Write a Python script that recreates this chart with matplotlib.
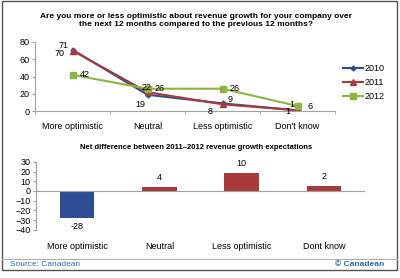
import numpy as np
import matplotlib.pyplot as plt
from matplotlib.lines import Line2D

# data
categories = ["More optimistic", "Neutral", "Less optimistic", "Don't know"]
bar_categories = ["More optimistic", "Neutral", "Less optimistic", "Dont know"]
y2010 = [71, 19, 9, 1]
y2011 = [70, 22, 8, 1]
y2012 = [42, 26, 26, 6]
net_diff = [-28, 4, 18, 5]
net_labels = ["-28", "4", "10", "2"]

plt.rcParams["font.family"] = ["Liberation Sans", "DejaVu Sans"]
plt.rcParams["font.size"] = 6.5

c2010 = "#2E4D95"
c2011 = "#A83A3A"
c2012 = "#8CB640"
grey = "#A0A0A0"

fig = plt.figure(figsize=(4, 2.78), dpi=100)

# frame around the whole graphic
fig.add_artist(plt.Rectangle((0.006, 0.029), 0.986, 0.966, transform=fig.transFigure,
                             fill=False, edgecolor="#555555", linewidth=1.0))
fig.add_artist(Line2D([0.006, 0.992], [0.068, 0.068], transform=fig.transFigure,
                      color="#B0B0B0", linewidth=0.8))
fig.text(0.025, 0.048, "Source: Canadean", color="#2A6EBB", fontsize=6, va="center")
fig.text(0.96, 0.048, "© Canadean", color="#2A6EBB", fontsize=6, va="center",
         ha="right", fontweight="bold")

# ---- top line chart
ax = fig.add_axes([0.0875, 0.60, 0.75, 0.249])
x = np.arange(len(categories))
ax.plot(x, y2010, "-D", color=c2010, markersize=2.5, linewidth=1.5, label="2010")
ax.plot(x, y2011, "-^", color=c2011, markersize=5, linewidth=1.5, label="2011")
ax.plot(x, y2012, "-s", color=c2012, markersize=5, linewidth=1.5, label="2012")
ax.set_xlim(-0.5, 3.5)
ax.set_ylim(0, 80)
ax.set_yticks([0, 20, 40, 60, 80])
ax.set_xticks(x)
ax.set_xticklabels(categories)
ax.set_xticks([-0.5, 0.5, 1.5, 2.5, 3.5], minor=True)
ax.tick_params(axis="x", which="major", length=0, pad=8)
ax.tick_params(axis="x", which="minor", length=2, color=grey)
ax.tick_params(axis="y", length=2, color=grey, pad=2)
for s in ["top", "right"]:
    ax.spines[s].set_visible(False)
for s in ["left", "bottom"]:
    ax.spines[s].set_color(grey)

# point labels
offs2010 = [(-10, 3), (-9, -7), (4, 3), (-6, 4)]
offs2011 = [(-13, -2), (-4, 3), (-11, -5), (-9, -1)]
offs2012 = [(5, 0), (5, 0), (5, 0), (7, 0)]
for xi, v, o in zip(x, y2010, offs2010):
    ax.annotate(str(v), (xi, v), xytext=o, textcoords="offset points", va="center", ha="left", fontsize=6.5)
for xi, v, o in zip(x, y2011, offs2011):
    ax.annotate(str(v), (xi, v), xytext=o, textcoords="offset points", va="center", ha="left", fontsize=6.5)
for xi, v, o in zip(x, y2012, offs2012):
    ax.annotate(str(v), (xi, v), xytext=o, textcoords="offset points", va="center", ha="left", fontsize=6.5)

ax.legend(loc="center left", bbox_to_anchor=(1.0, 0.41), frameon=False, fontsize=6.5,
          handlelength=2.2, handletextpad=0.2, labelspacing=0.55)

fig.text(0.49, 0.925, "Are you more or less optimistic about revenue growth for your company over\n"
         "the next 12 months compared to the previous 12 months?", ha="center", va="center",
         fontsize=6.0, fontweight="bold", linespacing=1.2)

# ---- bottom bar chart
bx = fig.add_axes([0.09, 0.173, 0.8225, 0.245])
colors = [c2010 if v < 0 else c2011 for v in net_diff]
bx.bar(x, net_diff, width=0.42, color=colors, linewidth=0)
bx.set_xlim(-0.5, 3.5)
bx.set_ylim(-40, 30)
bx.set_yticks(np.arange(-40, 31, 10))
bx.axhline(0, color=grey, linewidth=0.8)
bx.set_xticks(x)
bx.set_xticklabels(bar_categories)
bx.tick_params(axis="x", length=0, pad=9)
bx.tick_params(axis="y", length=2, color=grey, pad=2)
for s in ["top", "right", "bottom"]:
    bx.spines[s].set_visible(False)
bx.spines["left"].set_color(grey)
for xi, v, lab in zip(x, net_diff, net_labels):
    if v < 0:
        bx.annotate(lab, (xi, v), xytext=(0, -3), textcoords="offset points", ha="center", va="top", fontsize=6.5)
    else:
        bx.annotate(lab, (xi, v), xytext=(0, 4), textcoords="offset points", ha="center", va="bottom", fontsize=6.5)

fig.text(0.49, 0.47, "Net difference between 2011\u20132012 revenue growth expectations",
         ha="center", va="center", fontsize=5.5, fontweight="bold")

fig.savefig("out.png", dpi=100)
